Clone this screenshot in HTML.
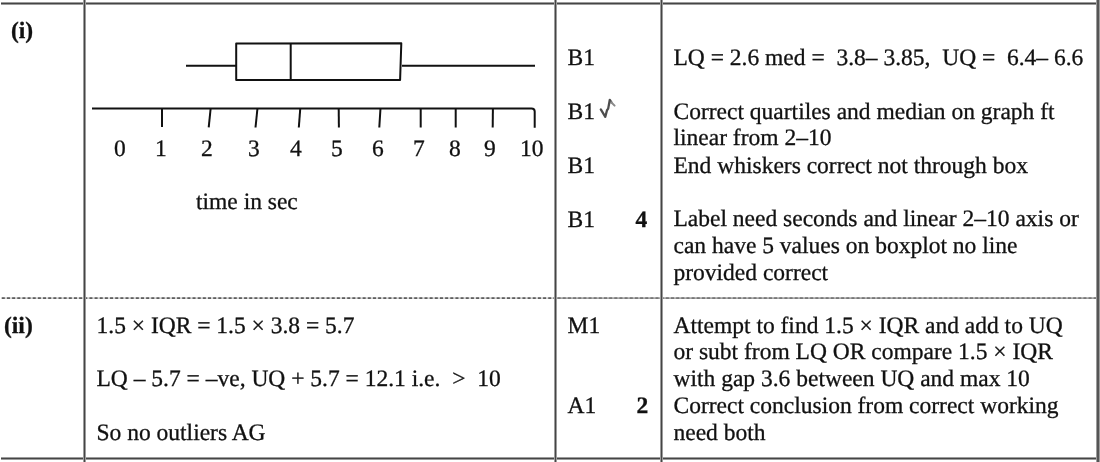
<!DOCTYPE html>
<html>
<head>
<meta charset="utf-8">
<style>
html,body{margin:0;padding:0;background:#fff;}
body{filter:grayscale(1);width:1100px;height:462px;position:relative;overflow:hidden;font-family:"Liberation Serif",serif;color:#111;}
.t{-webkit-text-stroke:0.3px #111;text-rendering:geometricPrecision;position:absolute;font-size:23.5px;line-height:0;white-space:pre;}
.b{font-weight:bold;}
.hl{position:absolute;z-index:1;height:1px;background:#454545;box-shadow:0 -1px 0 #9c9c9c,0 1px 0 #9c9c9c;}
.vl{position:absolute;z-index:1;width:1px;background:#454545;box-shadow:-1px 0 0 #9c9c9c,1px 0 0 #9c9c9c;}
svg{position:absolute;left:0;top:0;}
</style>
</head>
<body>
<!-- table rules -->
<div class="hl" style="left:1px;top:3px;width:1097px;"></div>
<div class="hl" style="left:1px;top:458px;width:1097px;"></div>
<div class="vl" style="left:84px;top:0;height:462px;"></div>
<div class="vl" style="left:555px;top:0;height:462px;"></div>
<div class="vl" style="left:661px;top:0;height:462px;"></div>
<div class="vl" style="left:1097px;top:0;height:462px;width:2px;background:#555;"></div>

<!-- box plot -->
<svg width="1100" height="462" viewBox="0 0 1100 462">
  <g fill="none" stroke="#111" stroke-width="2" stroke-linecap="butt">
    <line x1="186" y1="65.7" x2="236" y2="65.7"/>
    <path d="M236.2 43.4 L401.3 43.2 L400.1 79.9 L236.2 79.9 Z" stroke-linejoin="round"/>
    <line x1="290.7" y1="43.4" x2="290.7" y2="79.9"/>
    <line x1="402" y1="65.7" x2="535" y2="65.7"/>
    <path d="M92 108.4 L531.5 108.4 Q534.7 108.4 534.7 111.6 L534.7 127.8"/>
    <line x1="162" y1="108" x2="162" y2="127"/>
    <line x1="210.7" y1="108" x2="208.7" y2="127.3"/>
    <line x1="257.5" y1="108" x2="255.5" y2="127.5"/>
    <line x1="300.3" y1="108" x2="298.8" y2="127.5"/>
    <line x1="338.7" y1="108" x2="338.9" y2="127.5"/>
    <line x1="380.5" y1="108" x2="379.3" y2="127.5"/>
    <line x1="420.7" y1="108" x2="420.7" y2="127.5"/>
    <line x1="455.7" y1="108" x2="455.7" y2="127.5"/>
    <line x1="492.9" y1="108" x2="492.7" y2="127.5"/>
  </g>
  <line x1="1.5" y1="298.1" x2="555" y2="298.1" stroke="#d4d4d4" stroke-width="1.8"/>
  <line x1="1.8" y1="298.1" x2="555" y2="298.1" stroke="#5e5e5e" stroke-width="1.8" stroke-dasharray="3 2.155"/>
  <line x1="556" y1="298.1" x2="1098" y2="298.1" stroke="#a8a8a8" stroke-width="1.8"/>
  <line x1="557.6" y1="298.1" x2="1098" y2="298.1" stroke="#777" stroke-width="1.8" stroke-dasharray="3 2.155"/>
  <path d="M600.8 109.4 L605.3 116.8 L607 110.2 L608.2 108.6 L609.8 99.8 L611.4 102.4" fill="none" stroke="#3a3a3a" stroke-width="2.3" stroke-linejoin="round" stroke-linecap="round" opacity="0.9"/>
  <path d="M611.2 102.2 L614.6 105.6" fill="none" stroke="#8a8a8a" stroke-width="2" stroke-linecap="round"/>
</svg>

<!-- row (i) -->
<div class="t b" style="left:11px;top:31px;">(i)</div>

<div class="t" style="left:114px;top:149px;">0</div>
<div class="t" style="left:155px;top:149px;">1</div>
<div class="t" style="left:201px;top:149px;">2</div>
<div class="t" style="left:248px;top:149px;">3</div>
<div class="t" style="left:290px;top:149px;">4</div>
<div class="t" style="left:331px;top:149px;">5</div>
<div class="t" style="left:372px;top:149px;">6</div>
<div class="t" style="left:413px;top:149px;">7</div>
<div class="t" style="left:449px;top:149px;">8</div>
<div class="t" style="left:484px;top:149px;">9</div>
<div class="t" style="left:520px;top:149px;">10</div>

<div class="t" style="left:196px;top:202px;">time in sec</div>

<div class="t" style="left:567.5px;top:57.8px;">B1</div>
<div class="t" style="left:567.5px;top:111.8px;">B1</div>
<div class="t" style="left:567.5px;top:165.9px;">B1</div>
<div class="t" style="left:567.5px;top:219.9px;">B1</div>
<div class="t b" style="left:635.5px;top:219.9px;">4</div>

<div class="t" style="left:673.5px;top:57.7px;">LQ = 2.6 med =  3.8– 3.85,  UQ =  6.4– 6.6</div>
<div class="t" style="left:673.5px;top:111.8px;">Correct quartiles and median on graph ft</div>
<div class="t" style="left:673.5px;top:138.2px;">linear from 2–10</div>
<div class="t" style="left:673.5px;top:165.5px;">End whiskers correct not through box</div>
<div class="t" style="left:673.5px;top:219.3px;">Label need seconds and linear 2–10 axis or</div>
<div class="t" style="left:673.5px;top:245.9px;">can have 5 values on boxplot no line</div>
<div class="t" style="left:673.5px;top:272.8px;">provided correct</div>

<!-- row (ii) -->
<div class="t b" style="left:4px;top:325.5px;">(ii)</div>

<div class="t" style="left:96.5px;top:326px;">1.5 × IQR = 1.5 × 3.8 = 5.7</div>
<div class="t" style="left:96.5px;top:379.4px;">LQ – 5.7 = –ve, UQ + 5.7 = 12.1 i.e.  &gt;  10</div>
<div class="t" style="left:96.5px;top:433.1px;">So no outliers AG</div>

<div class="t" style="left:567.5px;top:325.8px;">M1</div>
<div class="t" style="left:567.5px;top:406.3px;">A1</div>
<div class="t b" style="left:636.5px;top:406.3px;">2</div>

<div class="t" style="left:673.5px;top:325.7px;">Attempt to find 1.5 × IQR and add to UQ</div>
<div class="t" style="left:673.5px;top:352px;">or subt from LQ OR compare 1.5 × IQR</div>
<div class="t" style="left:673.5px;top:379px;">with gap 3.6 between UQ and max 10</div>
<div class="t" style="left:673.5px;top:405.7px;">Correct conclusion from correct working</div>
<div class="t" style="left:673.5px;top:432.9px;">need both</div>
</body>
</html>
